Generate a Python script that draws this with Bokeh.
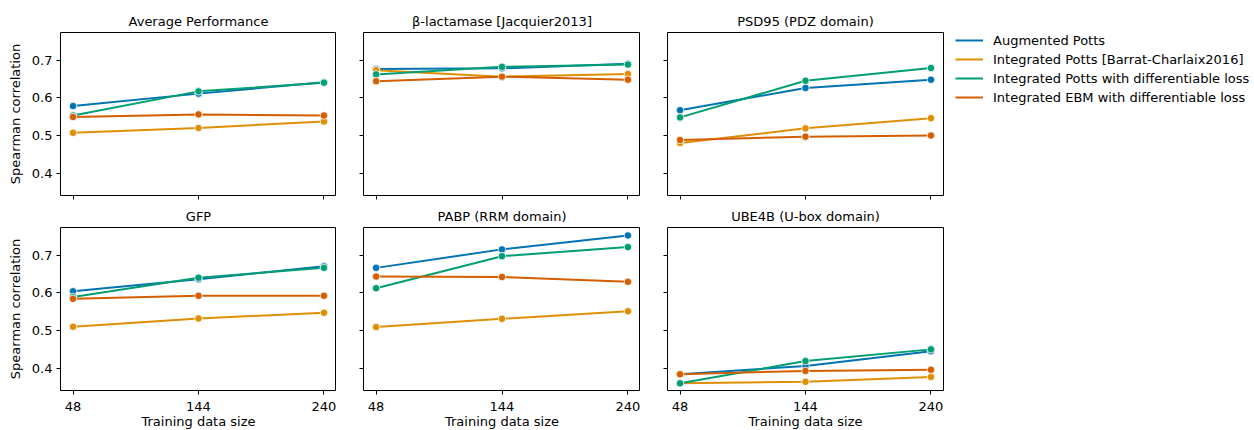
from bokeh.plotting import figure
from bokeh.layouts import column, row
from bokeh.models import Range1d, FixedTicker, Legend, LegendItem
from bokeh.embed import file_html
from bokeh.resources import INLINE

# ---- data ----
training_sizes = [48, 144, 240]
panel_titles = ["Average Performance", "β-lactamase [Jacquier2013]", "PSD95 (PDZ domain)",
                "GFP", "PABP (RRM domain)", "UBE4B (U-box domain)"]
series_names = ["Augmented Potts", "Integrated Potts [Barrat-Charlaix2016]",
                "Integrated Potts with differentiable loss", "Integrated EBM with differentiable loss"]
series_colors = ["#0173b2", "#de8f05", "#029e73", "#d55e00"]

augmented_potts = [[0.578, 0.611, 0.641], [0.676, 0.678, 0.690], [0.567, 0.626, 0.648],
                   [0.604, 0.636, 0.670], [0.666, 0.715, 0.752], [0.384, 0.406, 0.445]]
integrated_potts = [[0.507, 0.520, 0.537], [0.673, 0.656, 0.663], [0.480, 0.519, 0.546],
                    [0.510, 0.532, 0.547], [0.509, 0.531, 0.551], [0.360, 0.364, 0.377]]
integrated_potts_diff = [[0.553, 0.617, 0.640], [0.662, 0.682, 0.688], [0.548, 0.645, 0.679],
                         [0.589, 0.640, 0.666], [0.612, 0.697, 0.721], [0.360, 0.419, 0.450]]
integrated_ebm_diff = [[0.549, 0.556, 0.553], [0.644, 0.656, 0.648], [0.488, 0.497, 0.500],
                       [0.584, 0.592, 0.592], [0.643, 0.642, 0.629], [0.384, 0.393, 0.396]]
all_series = [augmented_potts, integrated_potts, integrated_potts_diff, integrated_ebm_diff]

y_ticks = [0.4, 0.5, 0.6, 0.7]

FONT = "DejaVu Sans"
FS = "13px"


def style_axis(ax):
    ax.axis_line_color = None
    ax.major_tick_line_color = "black"
    ax.major_tick_out = 4
    ax.major_tick_in = 0
    ax.minor_tick_line_color = None
    ax.major_label_text_font = FONT
    ax.major_label_text_font_size = FS
    ax.major_label_text_color = "black"
    ax.axis_label_text_font = FONT
    ax.axis_label_text_font_size = FS
    ax.axis_label_text_font_style = "normal"
    ax.axis_label_text_color = "black"


figs = []
for i, title in enumerate(panel_titles):
    c = i % 3
    r = i // 3
    p = figure(
        frame_width=277 if c == 1 else 276, frame_height=163,
        min_border_left=60 if c == 0 else 27,
        min_border_right=311 if c == 2 else 0,
        min_border_top=32 if r == 0 else 23,
        min_border_bottom=8 if r == 0 else 41,
        x_range=Range1d(38.4, 249.6), y_range=Range1d(0.341, 0.773),
        output_backend="svg", toolbar_location=None, title=title,
    )
    p.title.text_font = FONT
    p.title.text_font_size = FS
    p.title.text_font_style = "normal"
    p.title.text_color = "black"
    p.title.align = "center"
    p.title.standoff = 7
    p.grid.visible = False
    p.outline_line_color = "black"
    p.outline_line_width = 1
    p.outline_line_alpha = 1
    p.background_fill_color = "white"
    p.border_fill_color = "white"

    style_axis(p.xaxis)
    style_axis(p.yaxis)
    p.xaxis.ticker = FixedTicker(ticks=training_sizes)
    p.yaxis.ticker = FixedTicker(ticks=y_ticks)
    if r == 1:
        p.xaxis.major_label_standoff = 7
        p.xaxis.axis_label = "Training data size"
        p.xaxis.axis_label_standoff = 0
    else:
        p.xaxis.major_label_standoff = 0
        p.xaxis.major_label_text_alpha = 0
    if c == 0:
        p.yaxis.major_label_standoff = 4
        p.yaxis.axis_label = "Spearman correlation"
        p.yaxis.axis_label_standoff = 6
    else:
        p.yaxis.major_label_standoff = 0
        p.yaxis.major_label_text_alpha = 0

    lines = []
    for s, col in zip(all_series, series_colors):
        ln = p.line(training_sizes, s[i], line_color=col, line_width=2)
        p.scatter(training_sizes, s[i], size=7.5, fill_color=col, line_color="white", line_width=0.8)
        lines.append(ln)
    if i == 2:
        legend = Legend(
            items=[LegendItem(label=n, renderers=[l]) for n, l in zip(series_names, lines)],
            location=(12, 90), orientation="vertical",
            glyph_width=28, glyph_height=16, label_height=16, label_width=10,
            label_standoff=10, spacing=3, padding=0, margin=0,
            border_line_color=None, background_fill_alpha=0,
            label_text_font=FONT, label_text_font_size=FS, label_text_color="black",
        )
        p.add_layout(legend, "right")
    figs.append(p)

layout = column(row(*figs[:3]), row(*figs[3:]))
open("out.html", "w").write(file_html(layout, INLINE))
